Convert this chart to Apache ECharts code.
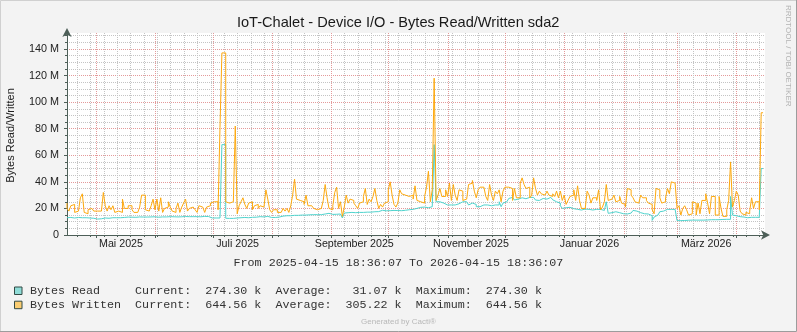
<!DOCTYPE html>
<html>
<head>
<meta charset="utf-8">
<script src="https://cdn.jsdelivr.net/npm/echarts@6/dist/echarts.min.js"></script>
<style>
html,body{margin:0;padding:0;background:#f3f3f3;}
#chart{width:797px;height:332px;}
</style>
</head>
<body>
<div id="chart"></div>
<script>
// Time span of the graph
const startTime = '2025-04-15T18:36:07';
const endTime = '2026-04-15T18:36:07';

// Daily values, in MB (one value per day from the start)
const readM = [
  13.0,13.0,13.2,13.0,12.8,13.0,13.2,13.0,13.0,13.2,
  13.0,13.0,12.8,13.0,12.6,12.0,12.0,11.9,12.2,12.6,
  12.8,12.8,12.6,12.8,13.0,12.8,13.0,12.8,13.0,13.0,
  13.2,13.3,13.5,13.3,13.4,13.5,13.3,13.5,13.6,13.4,
  13.5,13.6,13.5,13.4,13.6,13.5,13.7,13.5,13.4,13.6,
  13.6,13.7,13.6,13.5,13.8,13.6,13.7,13.8,13.6,13.5,
  13.7,13.8,13.9,13.7,13.8,14.0,13.8,13.6,13.8,13.9,
  13.7,13.8,14.0,13.8,13.9,13.2,12.8,12.8,12.8,12.8,
  12.8,12.8,68.0,68.0,12.6,12.5,12.6,12.5,12.6,12.8,
  12.8,13.0,13.0,13.2,13.2,13.0,13.3,13.3,13.5,13.4,
  13.6,13.8,13.8,13.6,13.8,14.0,13.4,13.2,13.0,13.2,
  13.3,13.5,13.6,14.2,14.5,14.5,14.6,14.5,14.7,14.8,
  14.6,14.8,15.0,15.0,14.8,15.0,15.0,15.2,15.0,15.3,
  15.2,15.3,15.5,15.3,15.5,15.8,16.3,16.3,15.6,15.5,
  15.5,15.6,15.8,15.8,15.6,12.8,16.5,16.8,16.8,17.0,
  17.0,16.8,17.0,17.0,17.2,17.0,17.0,17.2,17.3,17.2,
  17.3,17.5,17.5,17.6,17.6,18.6,18.3,18.2,18.4,18.3,
  18.2,18.5,18.3,18.4,18.5,18.3,18.4,18.6,18.5,19.0,
  19.0,19.3,19.5,20.0,20.5,20.8,20.8,21.0,21.5,20.5,
  20.5,21.3,22.6,68.0,25.0,25.0,25.0,24.0,23.5,22.6,
  22.6,22.6,22.6,22.6,22.6,23.5,24.0,25.0,25.0,25.0,
  24.0,22.6,24.0,25.0,23.0,21.3,21.3,22.6,22.6,22.6,
  22.6,22.6,22.0,22.6,22.6,23.0,22.6,25.0,21.3,24.0,
  25.0,26.3,27.5,28.3,27.0,26.3,27.0,28.3,28.0,27.0,
  27.3,28.0,28.3,28.3,28.3,27.5,26.3,26.0,27.0,27.5,
  26.3,27.0,27.5,28.3,27.5,26.5,25.0,25.5,24.0,22.0,
  20.0,20.5,20.8,20.8,20.5,19.8,19.3,19.3,19.5,18.8,
  19.0,19.5,20.0,19.3,19.3,18.8,19.3,19.3,19.5,19.3,
  19.0,18.5,19.0,25.0,16.3,16.8,17.3,17.5,17.3,16.8,
  16.3,16.0,15.5,15.8,16.3,16.5,17.5,18.5,18.0,17.3,
  16.8,16.5,16.0,15.5,15.8,16.0,14.5,11.0,13.5,15.0,
  16.0,17.5,18.0,18.5,19.3,19.3,19.3,19.3,19.3,19.3,
  10.8,10.8,11.0,10.9,11.0,11.1,11.0,11.2,11.1,11.2,
  11.3,11.2,11.3,11.2,11.4,11.3,11.4,11.5,11.4,11.5,
  11.6,11.5,11.6,11.7,11.6,11.8,11.8,11.8,29.0,15.0,
  14.5,13.8,13.8,13.5,13.5,13.3,13.0,13.0,13.3,13.3,
  13.3,13.3,13.3,13.5,50.0
];
const writtenM = [
  24,20,18,22,23,17,18,19,28,31,
  17,16,19,20,19,18,18,17,18,19,
  32,22,18,22,19,22,17,18,19,17,
  27,20,20,22,22,19,17,17,17,21,
  30,30,19,18,17,22,27,19,27,18,
  28,17,20,21,25,21,18,17,20,24,
  17,21,24,27,18,20,21,22,19,17,
  22,21,20,17,21,22,24,25,26,25,
  19,81,137,137,25,24,25,25,25,82,
  16,22,25,28,23,20,24,25,19,22,
  23,20,22,21,22,34,27,19,17,19,
  19,17,17,16,20,18,20,17,22,30,
  42,27,26,26,25,23,30,22,22,21,
  20,19,19,20,21,26,38,28,20,19,
  22,32,36,20,25,14,21,30,24,27,
  26,24,22,20,24,25,29,35,23,27,
  25,29,35,26,20,23,21,24,25,34,
  40,30,23,21,24,34,31,30,30,29,
  28,30,27,37,26,25,24,24,29,36,
  48,25,34,118,26,30,35,29,29,34,
  29,39,26,38,30,26,34,33,26,27,
  28,38,39,41,33,28,34,36,36,36,
  29,26,38,30,26,33,31,34,25,33,
  36,36,36,35,26,35,28,28,39,43,
  38,35,36,28,30,43,35,30,33,31,
  30,29,33,30,29,31,29,33,28,33,
  26,30,23,26,29,30,34,26,37,26,
  20,20,21,33,30,24,28,28,26,34,
  19,21,25,38,26,27,28,30,25,26,
  29,24,23,21,35,34,30,28,25,24,
  25,30,28,28,26,24,23,19,16,35,
  34,28,24,25,28,35,31,40,39,38,
  20,22,15,20,22,19,15,16,25,24,
  15,24,16,26,26,31,24,16,29,29,
  15,15,29,20,14,14,19,26,55,21,
  26,33,30,18,16,15,17,16,18,28,
  20,25,25,19,92
];

// Axis ticks
const yMajorTicks = [0, 20, 40, 60, 80, 100, 120, 140];
const yMinorTicks = [0,5,10,15,20,25,30,35,40,45,50,55,60,65,70,75,80,85,90,95,100,105,110,115,120,125,130,135,140,145,150];
const yMax = 152;
const monthStarts = ['2025-05-01','2025-06-01','2025-07-01','2025-08-01','2025-09-01','2025-10-01',
                     '2025-11-01','2025-12-01','2026-01-01','2026-02-01','2026-03-01','2026-04-01'];
const monthLabelDates = ['2025-05-14','2025-07-14','2025-09-13','2025-11-13','2026-01-14','2026-03-16'];
const monthLabelTexts = ['Mai 2025','Juli 2025','September 2025','November 2025','Januar 2026','März 2026'];
const firstMonday = '2025-04-21';

// Legend
const seriesNames = ['Bytes Read', 'Bytes Written'];
const currentK = ['274.30', '644.56'];
const averageK = ['31.07', '305.22'];
const maximumK = ['274.30', '644.56'];

const DAY = 86400000;
const t0 = Date.parse(startTime + 'Z');
const spanDays = (Date.parse(endTime + 'Z') - t0) / DAY;
const toDay = s => (Date.parse(s + 'T00:00:00Z') - t0) / DAY;

const monthDays = monthStarts.map(toDay);
const labelDays = monthLabelDates.map(toDay);
const weekDays = [];
for (let d = toDay(firstMonday); d < spanDays; d += 7) weekDays.push(d);

const readData = readM.map((v, i) => [i, v]);
const writtenData = writtenM.map((v, i) => [i, v]);

const AXIS = '#4d5f58';
const MINOR = '#c4c4c4';
const MAJOR = '#e49a9a';
const SANS = '"Liberation Sans", Arial, sans-serif';
const MONO = '"Liberation Mono", "Courier New", monospace';

const pad = (s, n) => (s + ' '.repeat(n)).slice(0, n);
const padL = (s, n) => (' '.repeat(n) + s).slice(-n);
const legendLines = seriesNames.map((n, i) =>
  pad(n, 15) + 'Current:  ' + padL(currentK[i], 6) + ' k  ' +
  'Average:  ' + padL(averageK[i], 6) + ' k  ' +
  'Maximum:  ' + padL(maximumK[i], 6) + ' k');
const swatchColors = ['#8fdcd7', '#fbcd72'];

const chart = echarts.init(document.getElementById('chart'), null, {renderer: 'canvas'});

const graphics = [
  {type: 'polyline', shape: {points: [[0.5, 331], [0.5, 0.5], [796, 0.5]]}, style: {stroke: '#d0d0d0', fill: null, lineWidth: 1}, silent: true},
  {type: 'polyline', shape: {points: [[796.5, 0], [796.5, 331.5], [0, 331.5]]}, style: {stroke: '#9c9c9c', fill: null, lineWidth: 1}, silent: true},
  {type: 'text', x: 398.2, y: 22.5, style: {text: 'IoT-Chalet - Device I/O - Bytes Read/Written sda2', font: '14.6px ' + SANS, fill: '#1a1a1a', align: 'center', verticalAlign: 'middle'}},
  {type: 'text', x: 10.5, y: 135.5, rotation: Math.PI / 2, style: {text: 'Bytes Read/Written', font: '11px ' + SANS, fill: '#222', align: 'center', verticalAlign: 'middle'}},
  {type: 'text', x: 788, y: 5, rotation: -Math.PI / 2, style: {text: 'RRDTOOL / TOBI OETIKER', font: '8px ' + SANS, fill: '#b3b3b3', align: 'left', verticalAlign: 'middle'}},
  {type: 'text', x: 398.4, y: 263, style: {text: 'From ' + startTime.replace('T', ' ') + ' To ' + endTime.replace('T', ' '), font: '11.7px ' + MONO, fill: '#333', align: 'center', verticalAlign: 'middle'}},
  {type: 'text', x: 398.5, y: 321.5, style: {text: 'Generated by Cacti®', font: '8px ' + SANS, fill: '#b8b8b8', align: 'center', verticalAlign: 'middle'}}
];
legendLines.forEach((line, i) => {
  const yc = 290.8 + i * 14.2;
  graphics.push({type: 'rect', shape: {x: 14.5, y: yc - 3.8, width: 7.5, height: 7.5}, style: {fill: swatchColors[i], stroke: '#334a44', lineWidth: 1}});
  graphics.push({type: 'text', x: 29.9, y: yc, style: {text: line, font: '11.7px ' + MONO, fill: '#333', align: 'left', verticalAlign: 'middle'}});
});

chart.setOption({
  animation: false,
  backgroundColor: '#f3f3f3',
  grid: {left: 67, right: 32, top: 33, bottom: 97, show: true, backgroundColor: '#ffffff', borderWidth: 0},
  xAxis: [
    {
      type: 'value', min: 0, max: spanDays, position: 'bottom',
      axisLine: {show: false},
      axisLabel: {show: false},
      axisTick: {show: true, customValues: weekDays, length: 2, lineStyle: {color: AXIS}},
      splitLine: {show: true, lineStyle: {color: MINOR, type: [1, 1], width: 1}}
    },
    {
      type: 'value', min: 0, max: spanDays, position: 'bottom',
      axisLine: {show: true, lineStyle: {color: AXIS, width: 1}, symbol: ['none', 'arrow'], symbolSize: [7, 9], symbolOffset: [0, 5]},
      axisTick: {show: true, customValues: monthDays, length: 3, lineStyle: {color: AXIS}},
      axisLabel: {
        customValues: labelDays, margin: 4, color: '#222', fontFamily: SANS, fontSize: 10.7,
        formatter: v => { const i = labelDays.findIndex(d => Math.abs(d - v) < 1e-6); return i >= 0 ? monthLabelTexts[i] : ''; }
      },
      splitLine: {show: true, lineStyle: {color: MAJOR, type: [1, 1], width: 1}}
    }
  ],
  yAxis: [
    {
      type: 'value', min: 0, max: yMax, position: 'left',
      axisLine: {show: false},
      axisLabel: {show: false},
      axisTick: {show: true, customValues: yMinorTicks, length: 2, lineStyle: {color: AXIS}},
      splitLine: {show: true, lineStyle: {color: MINOR, type: [1, 1], width: 1}}
    },
    {
      type: 'value', min: 0, max: yMax, position: 'left',
      axisLine: {show: true, lineStyle: {color: AXIS, width: 1}, symbol: ['none', 'arrow'], symbolSize: [7, 9], symbolOffset: [0, 5]},
      axisTick: {show: true, customValues: yMajorTicks, length: 3, lineStyle: {color: AXIS}},
      axisLabel: {
        customValues: yMajorTicks, margin: 8, color: '#222', fontFamily: SANS, fontSize: 10.8,
        formatter: v => v === 0 ? '0' : v + ' M'
      },
      splitLine: {show: true, lineStyle: {color: MAJOR, type: [1, 1], width: 1}}
    }
  ],
  series: [
    {
      name: seriesNames[0], type: 'line', step: 'start', xAxisIndex: 1, yAxisIndex: 1, data: readData,
      showSymbol: false, lineStyle: {color: '#4fd3cd', width: 1}, itemStyle: {color: '#4fd3cd'}, z: 3
    },
    {
      name: seriesNames[1], type: 'line', step: 'start', xAxisIndex: 1, yAxisIndex: 1, data: writtenData,
      showSymbol: false, lineStyle: {color: '#fda90f', width: 1}, itemStyle: {color: '#fda90f'}, z: 4
    }
  ],
  graphic: graphics
});
</script>
</body>
</html>
